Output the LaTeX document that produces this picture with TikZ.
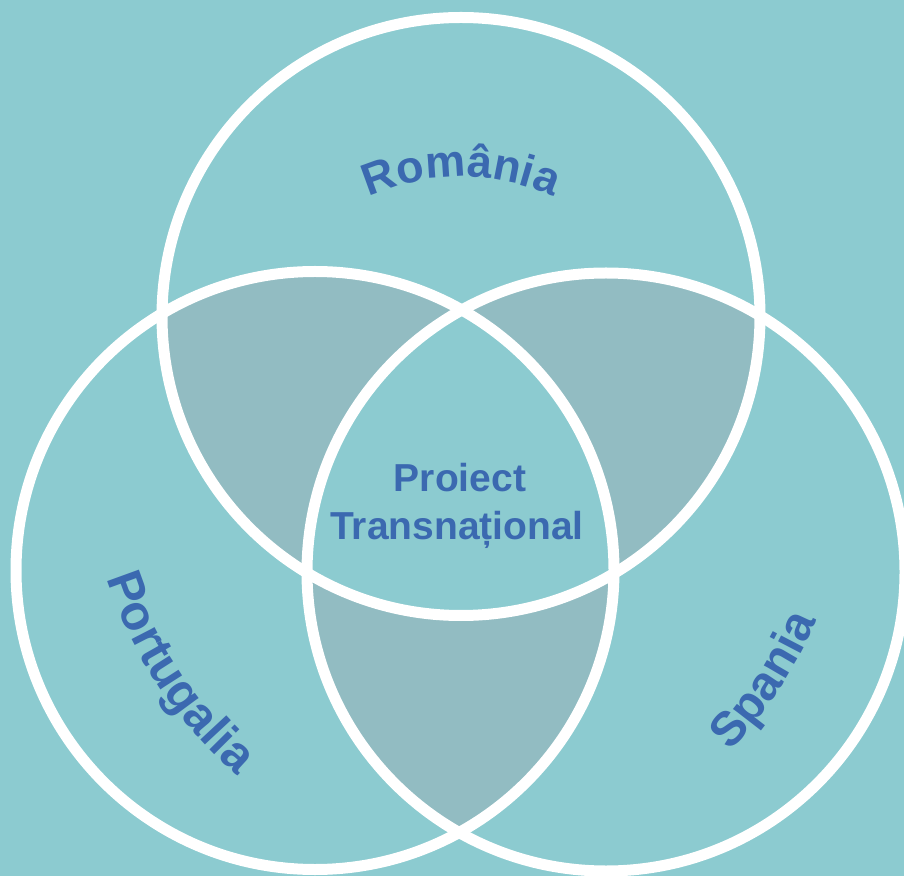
\documentclass[tikz,border=0pt]{standalone}
\usepackage{fontspec}
\setmainfont{Liberation Sans}
\usetikzlibrary{decorations.text}
\definecolor{bg}{HTML}{8CCBD0}
\definecolor{dark}{HTML}{92BCC2}
\definecolor{txt}{HTML}{3B69B0}
\tikzset{
  ring/.style={draw=white, line width=11pt},
  curvelabel/.style 2 args={decorate, decoration={text along path, text align=center, text color=txt,
     text={|\fontsize{#1}{#1}\selectfont\bfseries|#2}}},
  centerlabel/.style={text=txt, font=\fontsize{39}{39}\selectfont\bfseries, anchor=base, inner sep=0pt}
}
\begin{document}
\begin{tikzpicture}[x=1pt,y=1pt]
\useasboundingbox (0,0) rectangle (904,876);
\fill[bg] (0,0) rectangle (904,876);
\coordinate (ct) at (461,559.5);
\coordinate (cl) at (315,305.5);
\coordinate (cr) at (606,304);
\def\R{299}
% pairwise intersections
\begin{scope}\clip (ct) circle[radius=\R]; \fill[dark] (cl) circle[radius=\R]; \fill[dark] (cr) circle[radius=\R];\end{scope}
\begin{scope}\clip (cl) circle[radius=\R]; \fill[dark] (cr) circle[radius=\R];\end{scope}
\begin{scope}\clip (ct) circle[radius=\R]; \clip (cl) circle[radius=\R]; \fill[bg] (cr) circle[radius=\R];\end{scope}
% rings
\draw[ring] (ct) circle[radius=\R];
\draw[ring] (cl) circle[radius=\R];
\draw[ring] (cr) circle[radius=\R];
% curved labels
\coordinate (pt) at (461,473);
\path[curvelabel={45}{România}] (pt) ++(150:226) arc[start angle=150, end angle=30, radius=226];
\coordinate (pl) at (522,431);
\path[curvelabel={49}{Portugalia}] (pl) ++(179.8:436) arc[start angle=179.8, end angle=247.2, radius=436];
\coordinate (pr) at (416,427);
\path[curvelabel={48}{Spania}] (pr) ++(294:436) arc[start angle=294, end angle=359, radius=436];
% center label
\node[centerlabel] (l1) at (460,384) {Proiect};
\node[centerlabel] (l2) at (457,337) {Transnațional};
\end{tikzpicture}
\end{document}
